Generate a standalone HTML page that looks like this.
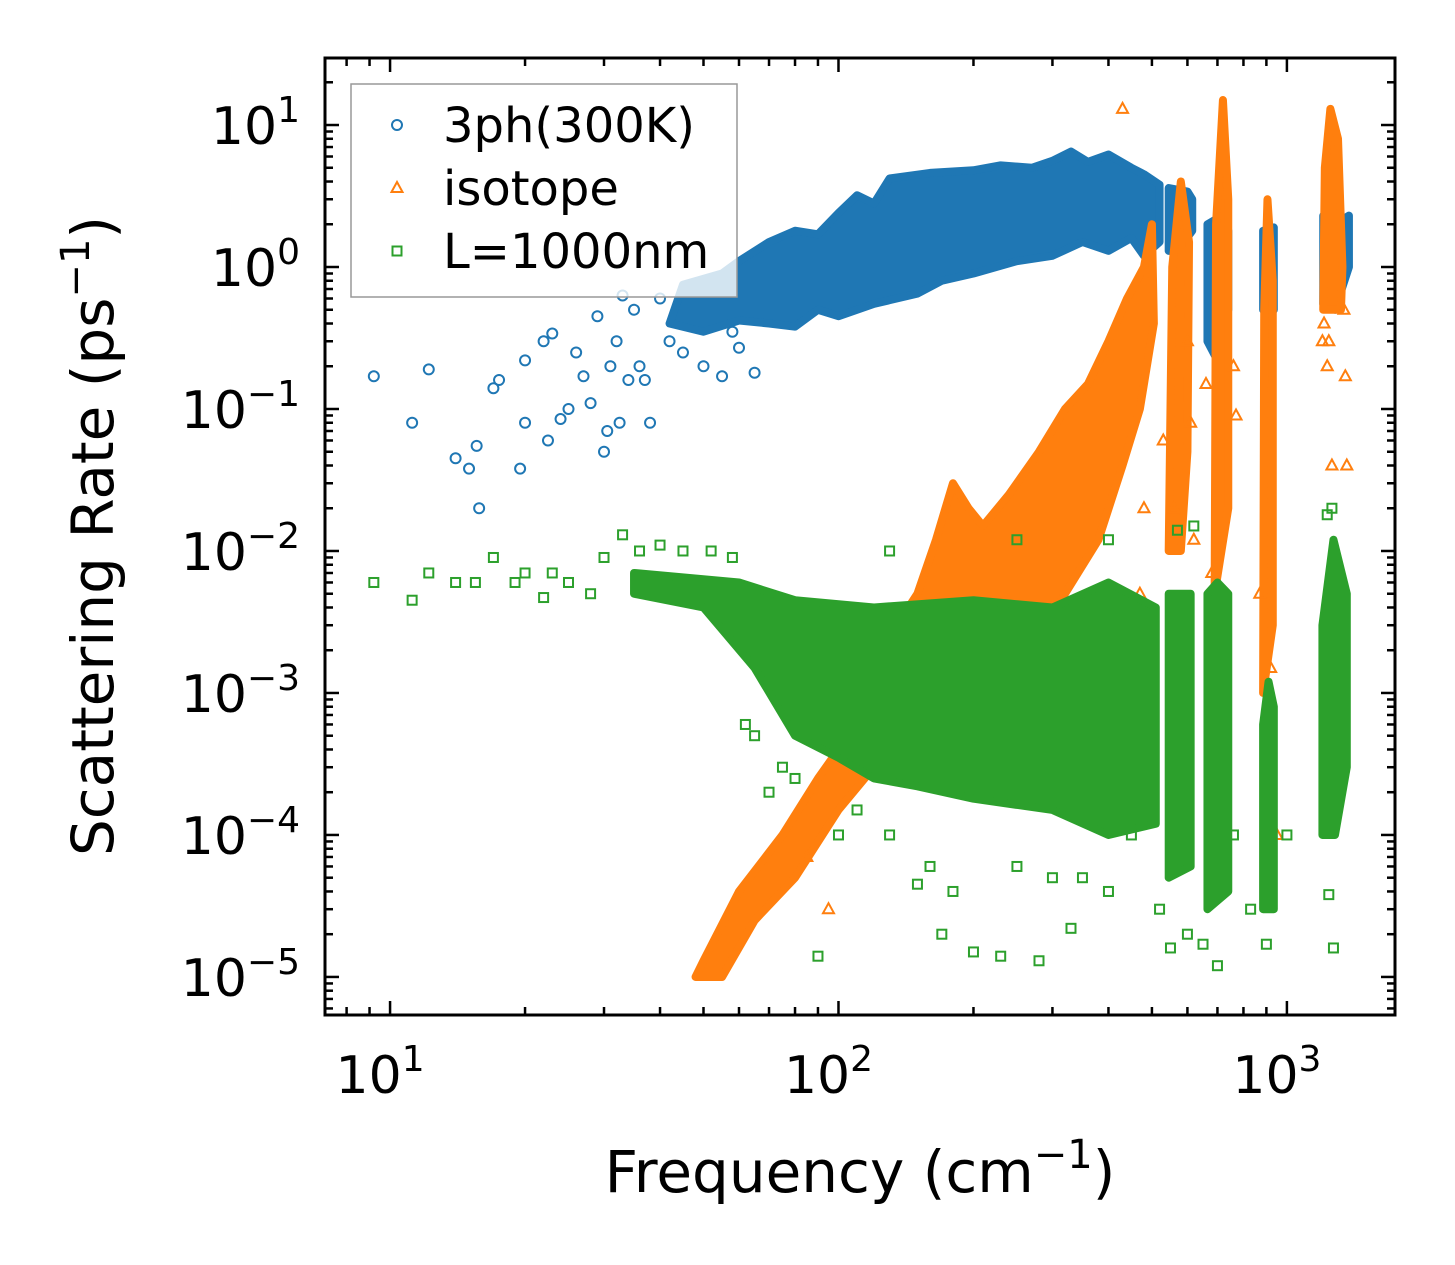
<!DOCTYPE html>
<html><head><meta charset="utf-8"><style>
html,body{margin:0;padding:0;background:#fff;}
svg{display:block;font-family:"DejaVu Sans","Liberation Sans",sans-serif;}
</style></head><body>
<svg id="chart" width="1455" height="1265" viewBox="0 0 1455 1265" xmlns="http://www.w3.org/2000/svg">
<defs><clipPath id="clip"><rect x="325" y="58" width="1070" height="957"/></clipPath></defs>
<g id="plot" clip-path="url(#clip)"></g>
<g id="axes"></g>
</svg>
<script>
// ---- data ----
const blueClouds = [
 [[42,0.4],[45,0.75],[55,0.9],[60,1.1],[70,1.5],[80,1.8],[90,1.7],[100,2.4],[110,3.2],[120,2.8],[130,4.2],[160,4.6],[200,4.8],[230,5.2],[270,5.0],[300,5.6],[330,6.5],[360,5.5],[400,6.2],[450,5.0],[480,4.5],[520,3.8],[520,1.5],[480,1.2],[450,1.6],[400,1.3],[350,1.5],[300,1.2],[250,1.1],[200,0.9],[170,0.8],[150,0.65],[120,0.55],[100,0.45],[90,0.5],[80,0.38],[70,0.4],[60,0.42],[50,0.35]],
 [[545,1.3],[545,3.6],[600,3.4],[615,3.0],[615,1.8],[580,1.4]],
 [[665,0.3],[665,2.0],[700,2.2],[740,1.8],[740,0.5],[700,0.22]],
 [[885,0.5],[885,1.8],[935,1.9],[935,0.5]],
 [[1205,0.55],[1205,2.3],[1280,2.0],[1375,2.3],[1375,1.0],[1280,0.5]]
];
const blueScatter = [[9.2,0.17],[11.2,0.08],[12.2,0.19],[14,0.045],[15,0.038],[15.6,0.055],[15.8,0.02],[17,0.14],[17.5,0.16],[19.5,0.038],[20,0.08],[20,0.22],[22,0.3],[22.5,0.06],[23,0.34],[24,0.085],[25,0.1],[26,0.25],[27,0.17],[28,0.11],[29,0.45],[30,0.05],[30.5,0.07],[31,0.2],[32,0.3],[32.5,0.08],[33,0.63],[34,0.16],[35,0.5],[36,0.2],[37,0.16],[38,0.08],[40,0.6],[42,0.3],[45,0.25],[50,0.2],[55,0.17],[58,0.35],[60,0.27],[65,0.18]];
const orangeClouds = [
 [[48,1e-5],[50,1.3e-5],[60,4e-5],[75,1e-4],[90,2.5e-4],[100,4e-4],[115,2e-3],[125,4e-3],[135,3e-3],[150,5e-3],[165,1.2e-2],[180,3e-2],[195,2e-2],[210,1.5e-2],[240,2.5e-2],[280,5e-2],[320,0.1],[360,0.15],[400,0.3],[440,0.6],[480,1.0],[500,2.0],[505,0.4],[470,0.1],[430,0.04],[380,0.012],[320,5e-3],[270,2e-3],[220,1e-3],[180,6e-4],[150,4e-4],[120,3e-4],[100,1.5e-4],[80,5e-5],[65,2.5e-5],[55,1e-5]],
 [[545,0.01],[555,1.0],[580,4.0],[605,1.5],[600,0.05],[580,0.01]],
 [[690,0.005],[695,2.0],[720,15],[740,3.0],[740,0.02]],
 [[885,0.001],[890,0.5],[905,3.0],[930,0.8],[930,0.003]],
 [[1205,0.5],[1215,5],[1250,13],[1300,8],[1330,1.0],[1320,0.5]]
];
const orangeScatter = [[430,13],[600,0.3],[610,0.08],[620,0.012],[560,0.02],[530,0.06],[480,0.02],[470,0.005],[660,0.15],[680,0.007],[760,0.2],[770,0.09],[870,0.005],[900,3e-4],[920,0.0015],[950,1e-4],[1230,0.2],[1240,0.3],[1260,0.04],[1340,0.5],[1350,0.17],[1360,0.04],[1200,0.3],[1210,0.4],[95,3e-5],[85,7e-5]];
const greenClouds = [
 [[35,5e-3],[35,7e-3],[60,6e-3],[80,4.5e-3],[120,4e-3],[200,4.5e-3],[300,4e-3],[400,6e-3],[510,4e-3],[510,1.2e-4],[400,1e-4],[300,1.5e-4],[200,1.8e-4],[150,2.2e-4],[120,2.5e-4],[100,3.5e-4],[80,5e-4],[65,1.5e-3],[50,4e-3]],
 [[545,5e-5],[545,5e-3],[610,5e-3],[610,6e-5]],
 [[665,3e-5],[665,5e-3],[700,6e-3],[740,5e-3],[740,4e-5]],
 [[885,3e-5],[885,6e-4],[910,1.2e-3],[935,8e-4],[935,3e-5]],
 [[1200,1e-4],[1200,3e-3],[1270,1.2e-2],[1360,5e-3],[1360,3e-4],[1280,1e-4]]
];
const greenScatter = [[9.2,6e-3],[11.2,4.5e-3],[12.2,7e-3],[14,6e-3],[15.5,6e-3],[17,9e-3],[19,6e-3],[20,7e-3],[22,4.7e-3],[23,7e-3],[25,6e-3],[28,5e-3],[30,9e-3],[33,1.3e-2],[36,1e-2],[40,1.1e-2],[45,1e-2],[52,1e-2],[58,9e-3],[62,6e-4],[65,5e-4],[70,2e-4],[75,3e-4],[80,2.5e-4],[90,1.4e-5],[100,1e-4],[110,1.5e-4],[130,1e-4],[150,4.5e-5],[160,6e-5],[170,2e-5],[180,4e-5],[200,1.5e-5],[230,1.4e-5],[250,6e-5],[280,1.3e-5],[300,5e-5],[330,2.2e-5],[350,5e-5],[400,4e-5],[450,1e-4],[520,3e-5],[550,1.6e-5],[600,2e-5],[650,1.7e-5],[700,1.2e-5],[760,1e-4],[830,3e-5],[900,1.7e-5],[1000,1e-4],[1240,3.8e-5],[1270,1.6e-5],[1260,2e-2],[1230,1.8e-2],[620,1.5e-2],[570,1.4e-2],[130,1e-2],[250,1.2e-2],[400,1.2e-2]];
const xTicks = [10,100,1000];
const xTickExp = ["1","2","3"];
const yTicks = [10,1,0.1,0.01,0.001,1e-4,1e-5];
const yTickExp = ["1","0","\u22121","\u22122","\u22123","\u22124","\u22125"];

// ---- scales ----
const X0=325,X1=1395,Y0=58,Y1=1015;
const xmin=Math.log10(7.16), xmax=Math.log10(1742);
const ymin=-5.268, ymax=1.472;
const sx=v=>X0+(Math.log10(v)-xmin)/(xmax-xmin)*(X1-X0);
const sy=v=>Y1-(Math.log10(v)-ymin)/(ymax-ymin)*(Y1-Y0);
const NS="http://www.w3.org/2000/svg";
function mk(tag,attrs,parent){const e=document.createElementNS(NS,tag);for(const k in attrs)e.setAttribute(k,attrs[k]);parent.appendChild(e);return e;}
const plot=document.getElementById('plot'), axes=document.getElementById('axes');
const C={b:'#1f77b4',o:'#ff7f0e',g:'#2ca02c'};

function clouds(arr,color,name){arr.forEach((poly,i)=>{
 const p=mk('polygon',{points:poly.map(d=>sx(d[0])+','+sy(d[1])).join(' '),fill:color,stroke:color,'stroke-width':8,'stroke-linejoin':'round'},plot);
 
 
});}
function marker(type,x,y,color,parent){
 let e;
 if(type==='c') e=mk('circle',{cx:x,cy:y,r:5,fill:'none',stroke:color,'stroke-width':2},parent);
 else if(type==='t') e=mk('polygon',{points:`${x},${y-6} ${x-5.5},${y+4} ${x+5.5},${y+4}`,fill:'none',stroke:color,'stroke-width':2},parent);
 else e=mk('rect',{x:x-4.5,y:y-4.5,width:9,height:9,fill:'none',stroke:color,'stroke-width':2},parent);
 return e;
}
function scatter(arr,type,color,name){arr.forEach(d=>{
 const e=marker(type,sx(d[0]),sy(d[1]),color,plot);
 
 
});}
clouds(blueClouds,C.b,'3ph'); scatter(blueScatter,'c',C.b,'3ph');
clouds(orangeClouds,C.o,'isotope'); scatter(orangeScatter,'t',C.o,'isotope');
clouds(greenClouds,C.g,'boundary'); scatter(greenScatter,'s',C.g,'boundary');

// legend
const lg=mk('g',{},axes);


mk('rect',{x:351,y:84,width:386,height:213,fill:'rgba(255,255,255,0.8)',stroke:'#999','stroke-width':1.5},lg);
[['c',C.b,'3ph(300K)',125],['t',C.o,'isotope',188],['s',C.g,'L=1000nm',251]].forEach(l=>{
 const m=marker(l[0],397,l[3],l[1],lg);
 
 
 const t=mk('text',{x:443,y:l[3]+17,'font-size':48,fill:'#000'},lg);t.textContent=l[2];
 
 
});

// frame
const fr=mk('rect',{x:X0,y:Y0,width:X1-X0,height:Y1-Y0,fill:'none',stroke:'#000','stroke-width':3},axes);


for(let d=0;d<=3;d++)for(let m=1;m<10;m++){const v=m*Math.pow(10,d);const x=sx(v);if(x<X0||x>X1)continue;const L=m===1?14:8;
 mk('line',{x1:x,x2:x,y1:Y1,y2:Y1-L,stroke:'#000','stroke-width':2.5},axes);
 mk('line',{x1:x,x2:x,y1:Y0,y2:Y0+L,stroke:'#000','stroke-width':2.5},axes);}
for(let d=-6;d<=1;d++)for(let m=1;m<10;m++){const v=m*Math.pow(10,d);const y=sy(v);if(y<Y0||y>Y1)continue;const L=m===1?14:8;
 mk('line',{x1:X0,x2:X0+L,y1:y,y2:y,stroke:'#000','stroke-width':2.5},axes);
 mk('line',{x1:X1,x2:X1-L,y1:y,y2:y,stroke:'#000','stroke-width':2.5},axes);}
xTicks.forEach((v,i)=>{const t=mk('text',{x:sx(v)-10,y:1093,'font-size':52,'text-anchor':'middle'},axes);
 t.innerHTML='10<tspan dy="-22" font-size="36">'+xTickExp[i]+'</tspan>';
 
 });
yTicks.forEach((v,i)=>{const t=mk('text',{x:300,y:sy(v)+19,'font-size':52,'text-anchor':'end'},axes);
 t.innerHTML='10<tspan dy="-22" font-size="36">'+yTickExp[i]+'</tspan>';
 
 });
const xl=mk('text',{x:860,y:1192,'font-size':58,'text-anchor':'middle'},axes);
xl.innerHTML='Frequency (cm<tspan dy="-24" font-size="40">\u22121</tspan><tspan dy="24">)</tspan>';


const yl=mk('text',{x:0,y:0,'font-size':58,'text-anchor':'middle',transform:'translate(113,536) rotate(-90)'},axes);
yl.innerHTML='Scattering Rate (ps<tspan dy="-24" font-size="40">\u22121</tspan><tspan dy="24">)</tspan>';


</script>
</body></html>
